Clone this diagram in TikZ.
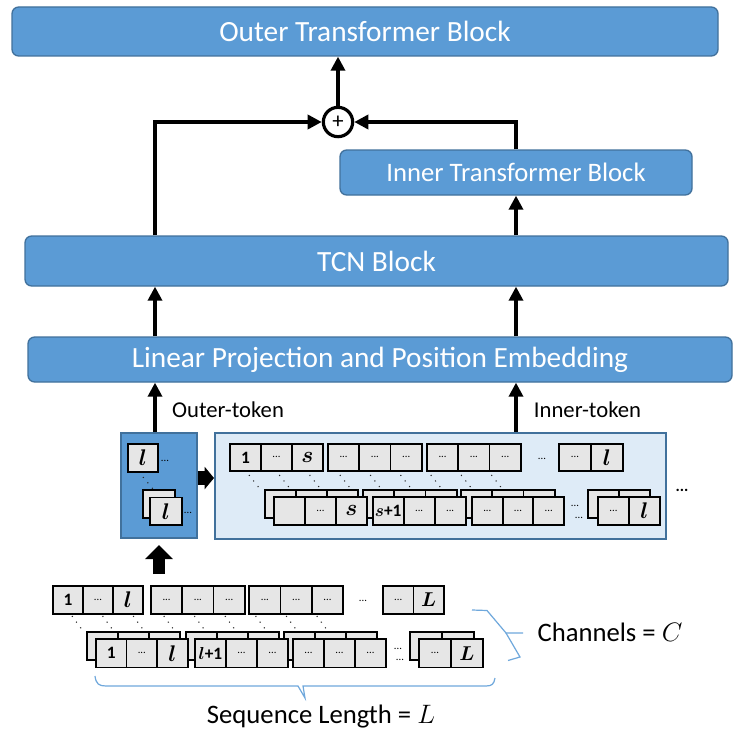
\RequirePackage{fix-cm}
\documentclass[tikz,border=0pt]{standalone}
\usepackage{fontspec}
\setmainfont{Carlito}
\usetikzlibrary{arrows.meta}
\definecolor{blk}{HTML}{5B9BD5}
\definecolor{blkb}{HTML}{41719C}
\definecolor{lite}{HTML}{DEEBF7}
\definecolor{cellc}{HTML}{E6E6E6}
\definecolor{brc}{HTML}{6FA8DC}
\newcommand\lbone{{\fontsize{13}{13}\selectfont\bfseries 1}}
\newcommand\lbdd{{\fontsize{8}{8}\selectfont ...}}
\newcommand\lbl{{\fontsize{17}{17}\selectfont\boldmath$l$}}
\newcommand\lbL{{\fontsize{15}{15}\selectfont\boldmath$L$}}
\newcommand\lbs{{\fontsize{17}{17}\selectfont\boldmath$s$}}
\newcommand\lblp{{\fontsize{13}{13}\selectfont\boldmath$l$\textbf{+1}}}
\newcommand\lbsp{{\fontsize{13}{13}\selectfont\boldmath$s$\textbf{+1}}}
\newcommand\cellrow[6]{%
  \foreach \lab [count=\ci] in {#6}{%
    \node[cell, minimum width={#4*0.75pt}, minimum height={#5*0.75pt}, anchor=north west] (#1-\ci) at ({#2+(\ci-1)*#4},#3) {\lab};}}
\newcommand\blocknode[7]{%
  \node[#6, minimum width={(#4-#2)*0.75pt}, minimum height={(#5-#3)*0.75pt}] (#1) at ({(#2+#4)/2},{(#3+#5)/2}) {#7};}
\tikzset{
  block/.style={draw=blkb, fill=blk, line width=1pt, rounded corners=5pt, text=white, inner sep=0pt, font=\fontsize{22}{22}\selectfont},
  tokbox/.style={draw=blkb, line width=1.5pt, inner sep=0pt},
  cell/.style={draw=black, fill=cellc, line width=1.4pt, inner sep=0pt},
  arr/.style={line width=2.5pt, -{Triangle[length=10.5pt,width=10.5pt]}},
  fatR/.style={line width=10pt, -{Triangle[length=7pt,width=16.5pt]}},
  fatU/.style={line width=9.5pt, -{Triangle[length=10.5pt,width=20pt]}},
  plus/.style={circle, draw=black, fill=white, line width=2.4pt, minimum size=22pt, inner sep=0pt, font=\fontsize{17}{17}\selectfont},
  toklab/.style={font=\fontsize{17}{17}\selectfont, inner sep=0pt},
  dd/.style={font=\fontsize{8}{8}\selectfont, inner sep=0pt},
  diag/.style={line width=0.8pt, dash pattern=on 0.8pt off 4.5pt, black!85},
  brace/.style={draw=brc, line width=0.9pt},
  caption/.style={font=\fontsize{20}{20}\selectfont, inner sep=0pt}
}
\begin{document}
\begin{tikzpicture}[x=0.75pt,y=-0.75pt]
\fill[white] (0,0) rectangle (735,735);
\useasboundingbox (0,0) rectangle (735,735);

% main blocks
\blocknode{outerT}{12}{7}{718}{56}{block}{Outer Transformer Block}
\blocknode{innerT}{340}{150}{692}{195}{block, font=\fontsize{20}{20}\selectfont}{Inner Transformer Block}
\blocknode{tcn}{25}{236}{728}{286}{block}{TCN Block}
\blocknode{lin}{28}{337}{732}{382}{block}{\raisebox{-1.5pt}{Linear Projection and Position Embedding}}

\node[plus] (plus) at (338,122) {+};
\coordinate (cL) at (155,0);
\coordinate (cR) at (516,0);
\draw[arr] (plus) -- (plus |- outerT.south);
\draw[arr] (cL |- tcn.north) |- (plus);
\draw[arr] (innerT.north) |- (plus);
\draw[arr] (cR |- tcn.north) -- (innerT.south);
\draw[arr] (cL |- lin.north) -- (cL |- tcn.south);
\draw[arr] (cR |- lin.north) -- (cR |- tcn.south);

% token boxes
\blocknode{otok}{120.5}{432.5}{196.5}{538}{tokbox, fill=blk}{}
\blocknode{itok}{215}{432.7}{666}{539.3}{tokbox, fill=lite}{}
\draw[arr] (cL |- otok.north) -- (cL |- lin.south);
\draw[arr] (cR |- itok.north) -- (cR |- lin.south);
\node[toklab] (olab) at (228,410) {Outer-token};
\node[toklab] (ilab) at (587.5,410) {Inner-token};

\coordinate (fr) at (0,478);
\draw[fatR] (otok.east |- fr) -- (itok.west |- fr);
\coordinate (fu1) at (159,574);
\coordinate (fu2) at (159,545);
\draw[fatU] (fu1) -- (fu2);

% outer token contents
\cellrow{oa}{126.7}{443}{30.7}{28}{\lbl}
\node[dd] (od1) at (165,461) {...};
\draw[diag] (143,477) -- (153,489);
\cellrow{ob}{142}{489}{32}{28}{{}}
\cellrow{oc}{149}{496.5}{32}{27.5}{\lbl}
\node[dd] (od2) at (188,513) {...};

% inner token contents
\cellrow{ia}{229}{442.7}{31}{27.5}{\lbone,\lbdd,\lbs}
\cellrow{ib}{327}{442.7}{31.3}{27.5}{\lbdd,\lbdd,\lbdd}
\cellrow{ic}{426}{442.7}{31.3}{27.5}{\lbdd,\lbdd,\lbdd}
\node[dd] (id1) at (542,459) {...};
\cellrow{id}{558}{442.7}{32}{27.5}{\lbdd,\lbl}
\foreach \k in {0,...,8} \draw[diag] ({249+30.3*\k},475) -- ({260+30.3*\k},489);
\cellrow{je}{264}{489}{31}{28}{{},{},{}}
\cellrow{jf}{362}{489}{31.3}{28}{{},{},{}}
\cellrow{jg}{460}{489}{31.3}{28}{{},{},{}}
\cellrow{jh}{587}{489}{31}{28}{{},{}}
\cellrow{ka}{273}{496}{31}{28}{{},\lbdd,\lbs}
\cellrow{kb}{371.7}{496}{31}{28}{\lbsp,\lbdd,\lbdd}
\cellrow{kc}{471}{496}{30.7}{28}{\lbdd,\lbdd,\lbdd}
\cellrow{kd}{597}{496}{31}{28}{\lbdd,\lbl}
\node[dd] (id2) at (575,506) {...};
\node[dd] (id3) at (579,518) {...};
\node[font=\fontsize{12}{12}\selectfont\bfseries, inner sep=0pt] (idots) at (682,490) {...};

% sequence
\cellrow{sa}{52}{585}{30}{28}{\lbone,\lbdd,\lbl}
\cellrow{sb}{150}{585}{31.3}{28}{\lbdd,\lbdd,\lbdd}
\cellrow{sc}{248.3}{585}{31.3}{28}{\lbdd,\lbdd,\lbdd}
\node[dd] (sd1) at (363,601) {...};
\cellrow{sd}{382}{585}{30.5}{28}{\lbdd,\lbL}
\foreach \k in {0,...,8} \draw[diag] ({72+30.6*\k},616) -- ({83+30.6*\k},631);
\cellrow{ta}{86}{631}{31}{28}{{},{},{}}
\cellrow{tb}{185}{631}{31}{28}{{},{},{}}
\cellrow{tc}{283}{631}{31}{28}{{},{},{}}
\cellrow{td}{409}{631}{32}{28}{{},{}}
\cellrow{ua}{95}{638}{30.6}{28.5}{\lbone,\lbdd,\lbl}
\cellrow{ub}{194}{638}{31}{28.5}{\lblp,\lbdd,\lbdd}
\cellrow{uc}{292}{638}{31}{28.5}{\lbdd,\lbdd,\lbdd}
\cellrow{ud}{418}{638}{32}{28.5}{\lbdd,\lbL}
\node[dd] (sd2) at (398,649) {...};
\node[dd] (sd3) at (400,660) {...};

% braces
\draw[brace] (95,676) .. controls (96,684) and (99,686) .. (106,686) -- (298,686) -- (305,698) -- (303,686) -- (486,686) .. controls (492,686) and (494,684) .. (495,678);
\draw[brace] (472,610) -- (487,610.5) -- (506,633) -- (523,633);
\draw[brace] (506,633) -- (520,657) -- (508,660.5);
\node[caption] (chan) at (610,632) {Channels = $C$};
\node[caption] (seql) at (321,717) {Sequence Length = $L$};
\end{tikzpicture}
\end{document}
